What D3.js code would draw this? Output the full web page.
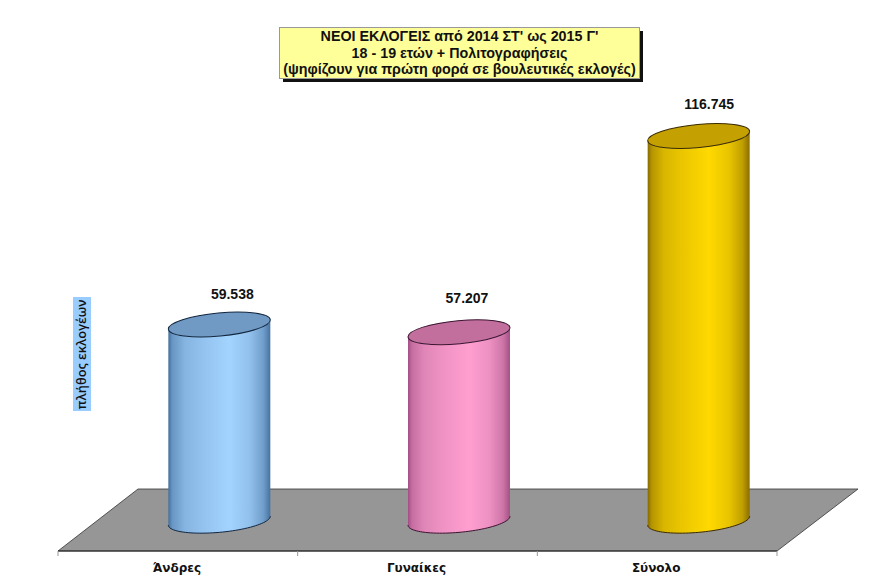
<!DOCTYPE html>
<html><head><meta charset="utf-8">
<script src="https://cdn.jsdelivr.net/npm/d3@7"></script>
<style>html,body{margin:0;padding:0;background:#fff}svg{display:block}</style>
</head><body><svg id="c" width="894" height="585"></svg>
<script>
const categories = ["Άνδρες","Γυναίκες","Σύνολο"];
const values = [59538,57207,116745];
const valueLabels = ["59.538","57.207","116.745"];
const titleLines = ["ΝΕΟΙ ΕΚΛΟΓΕΙΣ από 2014 ΣΤ' ως 2015 Γ'","18 - 19 ετών + Πολιτογραφήσεις","(ψηφίζουν για πρώτη φορά σε βουλευτικές εκλογές)"];
const yTitle = "πλήθος εκλογέων";
const bodyStops = [["#3f6a99","#a3d3ff"],["#9c4a80","#ff9fd0"],["#806400","#ffd900"]];
const capColors = ["#7099c4","#c26f9e","#c4a000"];
const strokes = ["#12263f","#3a1430","#3a2a00"];
const labelDx = [13,8,10.5];
const labelDy = [-25.5,-29.5,-27.5];

const svg = d3.select("#c");
const x = d3.scaleBand().domain(categories).range([58,777]);
const y = d3.scaleLinear().domain([0,120000]).range([520.7,125.3]);
const depth = 41.5;
const a=51.2,b=11.6,theta=-5.3*Math.PI/180;
const ellipsePt = (cx,cy,t)=>[
  cx + a*Math.cos(t)*Math.cos(theta) - b*Math.sin(t)*Math.sin(theta),
  cy + a*Math.cos(t)*Math.sin(theta) + b*Math.sin(t)*Math.cos(theta)
];
// parameter of the left/right silhouette tangents
const t0 = Math.atan2(-b*Math.sin(theta), a*Math.cos(theta));
const steps = d3.range(0,49).map(k=>t0 + Math.PI*k/48); // right tangent → bottom → left tangent
const line = d3.line();

const defs = svg.append("defs");
categories.forEach((c,i)=>{
  const g = defs.append("linearGradient").attr("id","g"+i);
  [[0,0.05],[0.04,0.42],[0.16,0.7],[0.35,0.85],[0.6,1],[0.8,0.82],[0.93,0.5],[1,0.08]].forEach(([o,t])=>{
    g.append("stop").attr("offset",o).attr("stop-color",d3.interpolateRgb(bodyStops[i][0],bodyStops[i][1])(t));
  });
});

// floor
svg.append("path").attr("d",line([[58,551],[138,489],[858,489],[777,551]])+"Z")
  .attr("fill","#969696").attr("stroke","#333").attr("stroke-width",0.8);
// axis
const axis = svg.append("g").attr("transform","translate(0,551)");
axis.append("line").attr("x1",58).attr("x2",777).attr("stroke","#222").attr("stroke-width",1.2);
[...categories.map(c=>x(c)),x.range()[1]].forEach(p=>{
  axis.append("line").attr("x1",p).attr("x2",p).attr("y1",0).attr("y2",5).attr("stroke","#999");
});
svg.append("g").selectAll("text").data(categories).join("text")
  .attr("x",d=>x(d)+x.bandwidth()/2-1).attr("y",571.5).attr("text-anchor","middle")
  .attr("font-family","'DejaVu Sans',sans-serif").attr("font-weight","bold").attr("font-size",12).attr("fill","#111").text(d=>d);

// cylinders
categories.forEach((c,i)=>{
  const cx = x(c)+x.bandwidth()/2+depth;
  const topY = y(values[i]), baseY = y(0);
  const bottom = steps.map(t=>ellipsePt(cx,baseY,t));
  const topEdge = steps.slice().reverse().map(t=>ellipsePt(cx,topY,t));
  const g = svg.append("g");
  g.append("path").attr("fill",`url(#g${i})`).attr("stroke","none")
   .attr("d",line(bottom.concat(topEdge))+"Z");
  g.append("path").attr("fill","none").attr("stroke",strokes[i]).attr("stroke-width",1).attr("d",line(bottom));
  g.append("ellipse").attr("rx",a).attr("ry",b).attr("transform",`translate(${cx},${topY}) rotate(${theta*180/Math.PI})`)
   .attr("fill",capColors[i]).attr("stroke",strokes[i]).attr("stroke-width",1);
  g.append("text").attr("x",cx+labelDx[i]).attr("y",topY+labelDy[i]).attr("text-anchor","middle")
   .attr("font-family","'Liberation Sans',Arial,sans-serif").attr("font-weight","bold").attr("font-size",14).attr("fill","#111").text(valueLabels[i]);
});

// title box
svg.append("rect").attr("x",283).attr("y",31).attr("width",360).attr("height",51).attr("fill","#111");
svg.append("rect").attr("x",279.5).attr("y",27.5).attr("width",360).attr("height",51).attr("fill","#ffff99").attr("stroke","#999");
svg.append("g").selectAll("text").data(titleLines).join("text")
  .attr("x",459.5).attr("y",(d,i)=>41+i*16.5).attr("text-anchor","middle")
  .attr("font-family","'Liberation Sans',Arial,sans-serif").attr("font-weight","bold").attr("font-size",14.3).attr("fill","#111").text(d=>d);

// y title
svg.append("rect").attr("x",73).attr("y",297).attr("width",18).attr("height",114).attr("fill","#99ccff");
svg.append("text").attr("transform","translate(86,354.5) rotate(-90)").attr("text-anchor","middle")
  .attr("font-family","'Open Sans',sans-serif").attr("font-weight",600).attr("font-size",12.8).attr("fill","#111").text(yTitle);
</script></body></html>
